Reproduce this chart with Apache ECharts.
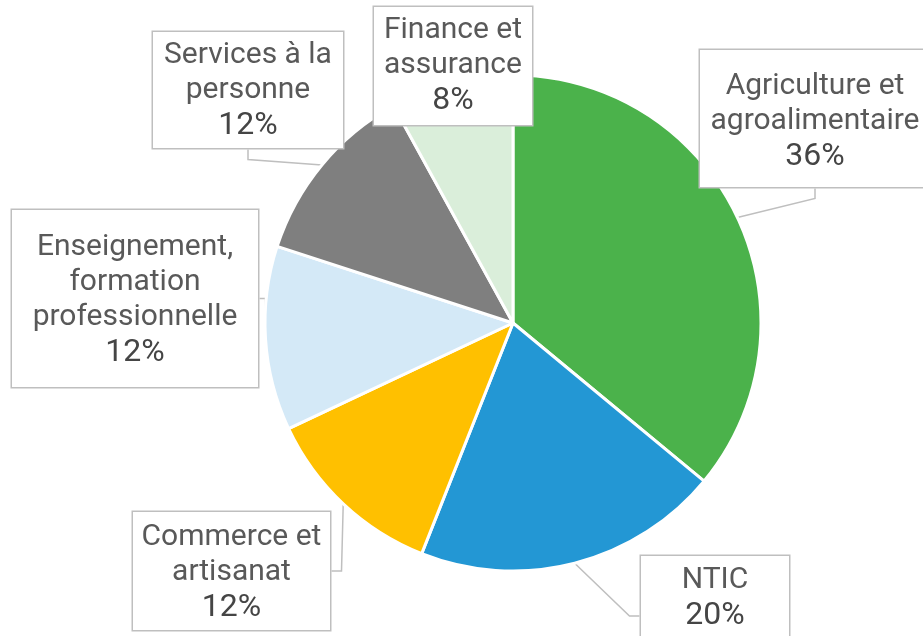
<!DOCTYPE html>
<html>
<head>
<meta charset="utf-8">
<script src="https://cdn.jsdelivr.net/npm/echarts@6/dist/echarts.min.js"></script>
<style>
  html, body { margin: 0; padding: 0; background: #fff; }
  #chart { width: 923px; height: 636px; }
</style>
</head>
<body>
<div id="chart"></div>
<script>
// sectors, clockwise from 12 o'clock
var categories = [
  'Agriculture et\nagroalimentaire',
  'NTIC',
  'Commerce et\nartisanat',
  'Enseignement,\nformation\nprofessionnelle',
  'Services à la\npersonne',
  'Finance et\nassurance'
]
var values = [36, 20, 12, 12, 12, 8]
var colors = ['#4BB24B', '#2397D4', '#FFC000', '#D4E9F7', '#7F7F7F', '#DAEEDA']

// callout boxes: left, top, width, height, top padding
var labelBoxes = [
  [700, 50, 230, 137, 19],
  [641, 556, 148, 120, 7],
  [133, 512, 197, 118, 8],
  [12, 210, 246, 177, 20],
  [153, 32, 190, 116, 6],
  [374, 7, 158, 118, 6]
]

var lineH = 35

var chart = echarts.init(document.getElementById('chart'))

var data = categories.map(function (name, i) {
  var b = labelBoxes[i]
  var lines = name.split('\n').length + 1
  var padBottom = Math.max(0, b[3] - b[4] - lines * lineH)
  return {
    name: name,
    value: values[i],
    itemStyle: { color: colors[i] },
    label: { width: b[2], padding: [b[4], 0, padBottom, 0] }
  }
})

var option = {
  animation: false,
  backgroundColor: '#fff',
  series: [{
    type: 'pie',
    center: [513, 323],
    radius: [0, 248],
    startAngle: 90,
    clockwise: true,
    percentPrecision: 0,
    data: data,
    itemStyle: { borderColor: '#fff', borderWidth: 3 },
    label: {
      show: true,
      position: 'outside',
      formatter: '{t|{b}}\n{p|{d}%}',
      fontFamily: 'Roboto',
      fontSize: 30,
      lineHeight: lineH,
      color: '#595959',
      align: 'center',
      backgroundColor: '#fff',
      borderColor: '#BFBFBF',
      borderWidth: 1.5,
      rich: {
        t: { fontFamily: 'Roboto', fontSize: 30, lineHeight: lineH, color: '#595959' },
        p: { fontFamily: 'Roboto', fontSize: 32, lineHeight: lineH, color: '#454545' }
      }
    },
    labelLine: {
      show: true,
      length: 10,
      length2: 10,
      lineStyle: { color: '#BFBFBF', width: 1.5 }
    },
    labelLayout: function (p) {
      var b = labelBoxes[p.dataIndex]
      return {
        x: b[0] + b[2] / 2,
        y: b[1],
        align: 'center',
        verticalAlign: 'top'
      }
    },
    emphasis: { disabled: true }
  }]
}

chart.setOption(option)
</script>
</body>
</html>
